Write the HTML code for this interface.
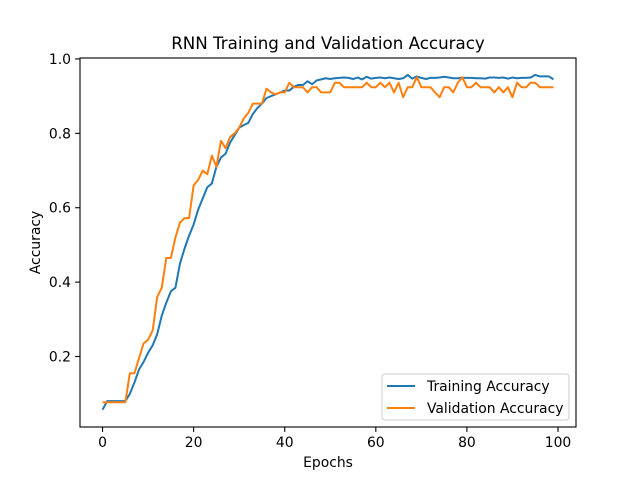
<!DOCTYPE html>
<html><head><meta charset="utf-8"><style>
body{margin:0;background:#fff;font-family:"Liberation Sans","DejaVu Sans",sans-serif}
svg text{font-family:"DejaVu Sans","Liberation Sans",sans-serif}
</style></head><body>
<svg id="c" width="640" height="480"></svg>
<script>
const epochs = Array.from({length:100},(_,i)=>i);
const trainAcc = [0.057,0.08,0.08,0.08,0.08,0.08,0.10,0.13,0.165,0.185,0.21,0.23,0.26,0.31,0.345,0.375,0.385,0.45,0.49,0.525,0.555,0.595,0.625,0.655,0.665,0.71,0.735,0.745,0.775,0.795,0.815,0.822,0.828,0.852,0.868,0.88,0.895,0.90,0.905,0.91,0.915,0.915,0.925,0.93,0.93,0.94,0.932,0.942,0.945,0.948,0.946,0.948,0.949,0.95,0.949,0.946,0.95,0.945,0.952,0.947,0.949,0.95,0.948,0.95,0.948,0.946,0.948,0.957,0.947,0.953,0.949,0.946,0.949,0.949,0.95,0.952,0.95,0.948,0.948,0.949,0.949,0.949,0.948,0.948,0.947,0.95,0.95,0.949,0.95,0.947,0.95,0.948,0.949,0.949,0.95,0.957,0.953,0.953,0.953,0.945];
const valAcc = [0.077,0.077,0.077,0.077,0.077,0.077,0.155,0.155,0.195,0.235,0.245,0.27,0.36,0.385,0.465,0.465,0.52,0.56,0.572,0.572,0.66,0.675,0.70,0.69,0.74,0.71,0.78,0.76,0.79,0.80,0.815,0.84,0.855,0.88,0.88,0.88,0.92,0.91,0.905,0.91,0.91,0.936,0.924,0.924,0.924,0.91,0.924,0.924,0.91,0.91,0.91,0.936,0.936,0.924,0.924,0.924,0.924,0.924,0.936,0.924,0.924,0.936,0.924,0.936,0.91,0.936,0.897,0.924,0.924,0.951,0.924,0.924,0.924,0.91,0.897,0.924,0.924,0.91,0.936,0.951,0.924,0.924,0.936,0.924,0.924,0.924,0.91,0.924,0.91,0.924,0.897,0.936,0.924,0.924,0.936,0.936,0.924,0.924,0.924,0.924];
const xTicks = [0,20,40,60,80,100];
const yTicks = [0.2,0.4,0.6,0.8,1.0];
const L=80,R=576,T=58,B=427;
const xmin=-4.95,xmax=103.95,ymin=0.0105,ymax=1.0025;
const X=v=>L+(v-xmin)/(xmax-xmin)*(R-L);
const Y=v=>B-(v-ymin)/(ymax-ymin)*(B-T);
const svg=document.getElementById('c');
const NS='http://www.w3.org/2000/svg';
function el(t,a,p){const e=document.createElementNS(NS,t);for(const k in a)e.setAttribute(k,a[k]);(p||svg).appendChild(e);return e;}
function txt(s,a){const e=el('text',a);e.textContent=s;return e;}
xTicks.forEach(v=>{const x=X(v);
 const t=el('line',{x1:x,x2:x,y1:B,y2:B+4.9,stroke:'#000','stroke-width':1.1});
 
 
 const l=txt(String(v),{x:x,y:B+20,'text-anchor':'middle','font-size':13.9});
 
 });
yTicks.forEach(v=>{const y=Y(v);
 const t=el('line',{x1:L-4.9,x2:L,y1:y,y2:y,stroke:'#000','stroke-width':1.1});
 
 
 const l=txt(v.toFixed(1),{x:L-9,y:y+5,'text-anchor':'end','font-size':13.9});
 
 });
function line(data,color,name){const d=data.map((v,i)=>(i?'L':'M')+X(epochs[i]).toFixed(2)+','+Y(v).toFixed(2)).join('');
 const p=el('path',{d:d,fill:'none',stroke:color,'stroke-width':2,'stroke-linejoin':'round'});
 
 }
line(trainAcc,'#1f77b4','training-accuracy-line');
line(valAcc,'#ff7f0e','validation-accuracy-line');
const fr=el('rect',{x:L,y:T,width:R-L,height:B-T,fill:'none',stroke:'#000','stroke-width':1.1});


const ti=txt('RNN Training and Validation Accuracy',{x:(L+R)/2,y:T-9,'text-anchor':'middle','font-size':16.7});


const xt=txt('Epochs',{x:(L+R)/2,y:467,'text-anchor':'middle','font-size':13.9});


const yt=txt('Accuracy',{x:0,y:0,'text-anchor':'middle','font-size':13.9,transform:'translate(40,'+((T+B)/2)+') rotate(-90)'});


const lg=el('g',{});


el('rect',{x:382,y:374,width:187,height:46,rx:3,fill:'#fff','fill-opacity':0.8,stroke:'#ccc','stroke-width':1}, lg);
[['Training Accuracy','#1f77b4',386],['Validation Accuracy','#ff7f0e',408]].forEach(([s,c,y])=>{
 el('line',{x1:387,x2:415,y1:y,y2:y,stroke:c,'stroke-width':2},lg);
 const t=el('text',{x:427,y:y+5,'font-size':13.9},lg);t.textContent=s;
 
 });
</script>
</body></html>
